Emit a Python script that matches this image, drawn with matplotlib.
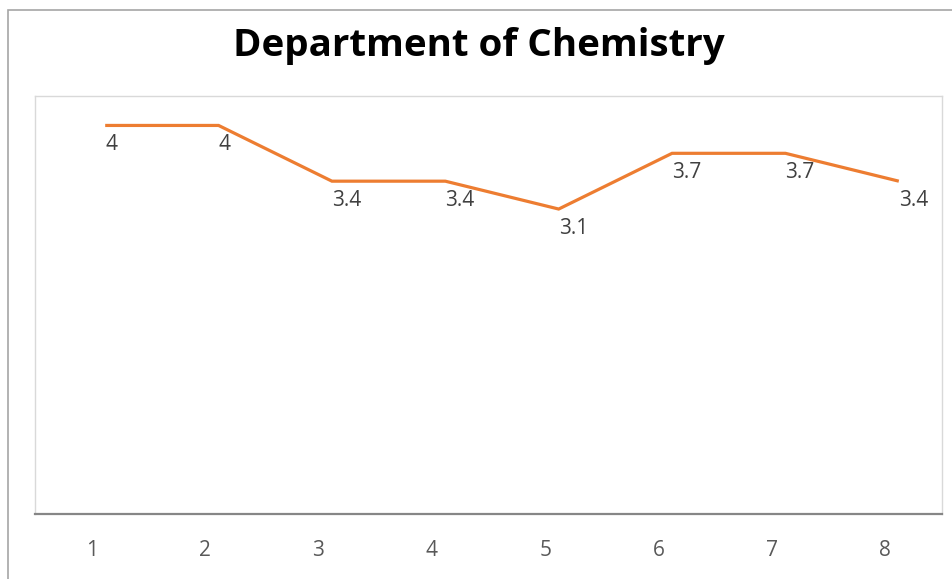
import matplotlib
matplotlib.use("Agg")
import matplotlib.pyplot as plt
from matplotlib.patches import Rectangle
from matplotlib.transforms import ScaledTranslation

categories = ["1", "2", "3", "4", "5", "6", "7", "8"]
values = [4, 4, 3.4, 3.4, 3.1, 3.7, 3.7, 3.4]
title = "Department of Chemistry"

W, H, DPI = 953, 579, 100
fig = plt.figure(figsize=(W / DPI, H / DPI), dpi=DPI)
fig.patch.set_facecolor("white")

# outer chart border (only left/top visible in the crop)
fig.patches.append(Rectangle((8 / W, -0.1), 1.2, 1.1 - 10 / H, transform=fig.transFigure,
                             fill=False, edgecolor="#a6a6a6", linewidth=1.2))

# plot area: x 35..942, y 95..514 (px)
left, right, top, bottom = 35, 942, 95.5, 513.5
ax = fig.add_axes([left / W, 1 - bottom / H, (right - left) / W, (bottom - top) / H])

x = list(range(1, len(values) + 1))
ax.set_xlim(0.5, len(values) + 0.5)
ax.set_ylim(0, 4.5)

# the series is drawn shifted up/right, as in the source rendering
shift = ax.transData + ScaledTranslation(13.5 / DPI, 16.5 / DPI, fig.dpi_scale_trans)
ax.plot(x, values, color="#ED7D31", linewidth=2.3, solid_joinstyle="miter",
        solid_capstyle="butt", transform=shift)

for xi, v in zip(x, values):
    ax.annotate(f"{v:g}", (xi, v), xycoords=shift, xytext=(0, -9), textcoords="offset pixels",
                ha="left", va="top", fontsize=15, color="#404040", family="Open Sans")

ax.set_xticks(x)
ax.set_xticklabels(categories, family="Open Sans", fontsize=15, color="#595959")
ax.tick_params(axis="x", length=0, pad=19)
ax.set_yticks([])

for s in ["top", "left", "right"]:
    ax.spines[s].set_color("#d9d9d9")
    ax.spines[s].set_linewidth(1.0)
ax.spines["bottom"].set_color("#868686")
ax.spines["bottom"].set_linewidth(1.6)

fig.text(479 / W, 1 - 46 / H, title, ha="center", va="center", fontsize=27.7,
         fontweight="bold", family="Open Sans", color="black")

fig.savefig("out.png", dpi=DPI)
